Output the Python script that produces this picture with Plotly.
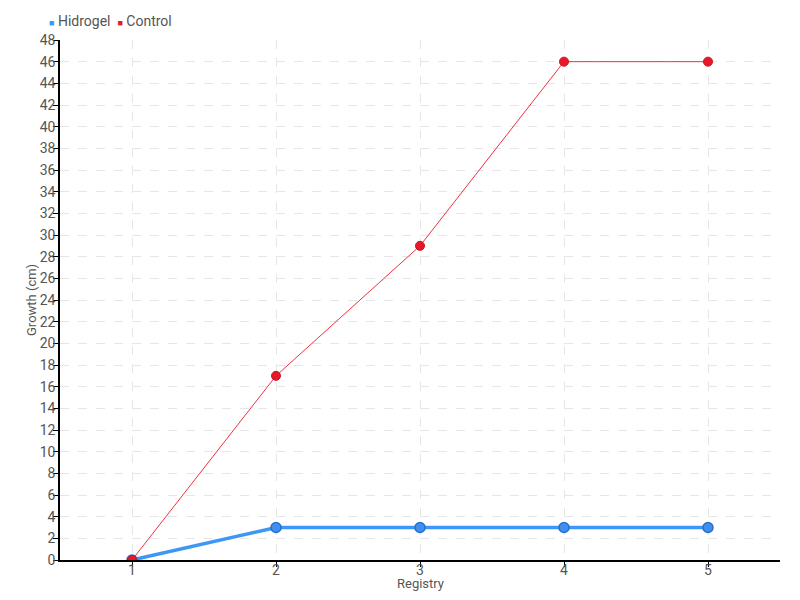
import plotly.graph_objects as go

categories = ["1", "2", "3", "4", "5"]
hidrogel = [0, 3, 3, 3, 3]
control = [0, 17, 29, 46, 46]
y_ticks = list(range(0, 49, 2))
series_names = ["Hidrogel", "Control"]
x_title = "Registry"
y_title = "Growth (cm)"

font = "Roboto, sans-serif"
blue = "#3d97f5"
red = "#e8182a"
text_color = "#555555"

fig = go.Figure()
fig.add_trace(go.Scatter(
    x=categories, y=hidrogel, name=series_names[0], mode="lines+markers",
    line=dict(color=blue, width=3.5),
    marker=dict(size=10, color="#3d8ff0", line=dict(color="#2d6fc6", width=1.5)),
))
fig.add_trace(go.Scatter(
    x=categories, y=control, name=series_names[1], mode="lines+markers",
    line=dict(color="#f0303f", width=1),
    marker=dict(size=9, color=red, line=dict(color="#c8101f", width=1)),
))

legend_html = (
    f"<span style='color:{blue};font-size:9px'>■</span> {series_names[0]}  "
    f"<span style='color:{red};font-size:9px'>■</span> {series_names[1]}"
)

fig.update_layout(
    width=800, height=600,
    margin=dict(l=52, r=28, t=32, b=48, autoexpand=False),
    plot_bgcolor="white", paper_bgcolor="white",
    font=dict(family=font, size=14, color=text_color),
    showlegend=False,
    annotations=[
        dict(text=legend_html, xref="paper", yref="paper", x=0, y=1,
             xshift=-13, yshift=19, xanchor="left", yanchor="middle",
             showarrow=False, font=dict(size=14, color=text_color)),
        dict(text=x_title, xref="paper", yref="paper", x=0.5, y=0,
             yshift=-23, xanchor="center", yanchor="middle",
             showarrow=False, font=dict(size=13, color=text_color)),
        dict(text=y_title, xref="paper", yref="paper", x=0, y=0.5,
             xshift=-29, xanchor="center", yanchor="middle", textangle=-90,
             showarrow=False, font=dict(size=13, color=text_color)),
    ],
    xaxis=dict(
        type="category", range=[-0.5, 4.5], automargin=False,
        showline=True, linecolor="black", linewidth=1.5,
        ticks="outside", ticklen=5, tickcolor="black",
        ticklabelstandoff=-9,
        showgrid=True, gridcolor="#e6e6e6", griddash="dash",
        zeroline=False,
    ),
    yaxis=dict(
        range=[0, 48], tickvals=y_ticks, automargin=False,
        showline=True, linecolor="black", linewidth=1.5,
        ticks="outside", ticklen=5, tickcolor="black",
        ticklabelstandoff=-5,
        showgrid=True, gridcolor="#e6e6e6", griddash="dash",
        zeroline=False,
    ),
)

fig.write_html("out.html")
